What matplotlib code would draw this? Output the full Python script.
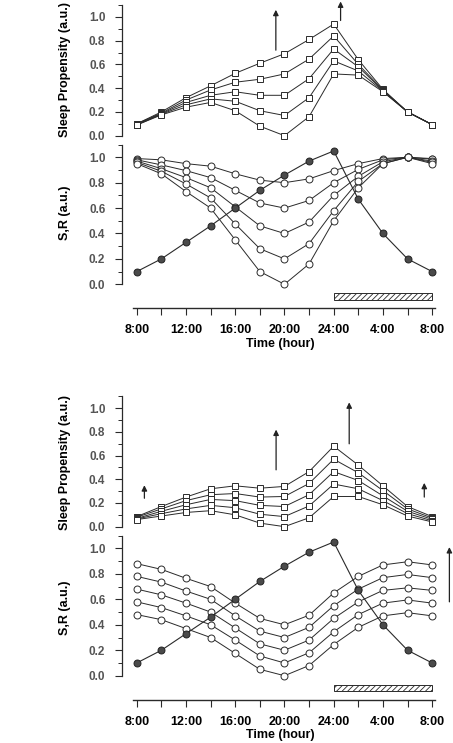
import numpy as np
import matplotlib
matplotlib.use('Agg')
from matplotlib import pyplot as plt
from matplotlib.patches import Rectangle
from matplotlib.ticker import FixedLocator

plt.rcParams['font.family'] = ['Liberation Sans', 'DejaVu Sans']
plt.rcParams['font.weight'] = 'bold'
plt.rcParams['hatch.linewidth'] = 0.6

# time axis: every 2 h from 8:00 to 8:00 next morning
t = np.arange(13)
hour_labels = ['8:00', '', '12:00', '', '16:00', '', '20:00', '', '24:00', '', '4:00', '', '8:00']

# S (filled circles), same in both panels
s_curve = [0.10, 0.20, 0.33, 0.46, 0.60, 0.74, 0.86, 0.97, 1.05, 0.67, 0.40, 0.20, 0.10]

# panel A : R curves (open circles)
r_a1 = [0.99, 0.98, 0.95, 0.93, 0.87, 0.82, 0.80, 0.83, 0.895, 0.95, 0.99, 1.00, 0.99]
r_a2 = [0.98, 0.94, 0.895, 0.84, 0.74, 0.64, 0.60, 0.66, 0.80, 0.905, 0.98, 1.00, 0.985]
r_a3 = [0.97, 0.91, 0.84, 0.76, 0.61, 0.46, 0.40, 0.49, 0.70, 0.85, 0.965, 1.00, 0.97]
r_a4 = [0.96, 0.89, 0.79, 0.68, 0.475, 0.28, 0.20, 0.32, 0.58, 0.81, 0.95, 1.00, 0.96]
r_a5 = [0.95, 0.87, 0.73, 0.60, 0.35, 0.10, 0.00, 0.16, 0.50, 0.76, 0.95, 1.00, 0.95]

# panel A : sleep propensity (open squares)
sp_a1 = [0.10, 0.20, 0.32, 0.42, 0.525, 0.61, 0.69, 0.81, 0.94, 0.64, 0.39, 0.20, 0.093]
sp_a2 = [0.10, 0.19, 0.30, 0.385, 0.45, 0.475, 0.52, 0.645, 0.84, 0.60, 0.385, 0.20, 0.093]
sp_a3 = [0.095, 0.185, 0.28, 0.34, 0.37, 0.34, 0.34, 0.48, 0.73, 0.58, 0.38, 0.20, 0.093]
sp_a4 = [0.09, 0.18, 0.26, 0.31, 0.29, 0.21, 0.17, 0.32, 0.63, 0.545, 0.375, 0.20, 0.093]
sp_a5 = [0.09, 0.175, 0.24, 0.28, 0.21, 0.08, 0.00, 0.16, 0.52, 0.51, 0.37, 0.20, 0.093]

# panel B : R curves
r_b1 = [0.88, 0.835, 0.765, 0.70, 0.57, 0.45, 0.40, 0.475, 0.65, 0.78, 0.87, 0.895, 0.87]
r_b2 = [0.78, 0.735, 0.665, 0.60, 0.47, 0.35, 0.30, 0.38, 0.55, 0.68, 0.77, 0.795, 0.77]
r_b3 = [0.68, 0.635, 0.57, 0.50, 0.375, 0.25, 0.20, 0.28, 0.45, 0.58, 0.67, 0.69, 0.67]
r_b4 = [0.58, 0.535, 0.47, 0.40, 0.28, 0.155, 0.10, 0.18, 0.345, 0.48, 0.57, 0.595, 0.57]
r_b5 = [0.48, 0.44, 0.37, 0.30, 0.175, 0.05, 0.00, 0.08, 0.245, 0.38, 0.47, 0.495, 0.47]

# panel B : sleep propensity
sp_b1 = [0.085, 0.17, 0.25, 0.32, 0.345, 0.325, 0.34, 0.465, 0.68, 0.52, 0.345, 0.17, 0.085]
sp_b2 = [0.08, 0.15, 0.22, 0.27, 0.28, 0.25, 0.255, 0.365, 0.57, 0.455, 0.305, 0.15, 0.073]
sp_b3 = [0.07, 0.13, 0.185, 0.23, 0.22, 0.18, 0.17, 0.27, 0.465, 0.39, 0.26, 0.13, 0.062]
sp_b4 = [0.065, 0.11, 0.15, 0.18, 0.16, 0.105, 0.085, 0.175, 0.36, 0.32, 0.22, 0.11, 0.05]
sp_b5 = [0.06, 0.09, 0.12, 0.135, 0.10, 0.03, 0.00, 0.075, 0.255, 0.255, 0.185, 0.09, 0.04]

# arrows (x, y from, y to)
arrows_sp_a = [(5.65, 0.72, 1.06), (8.28, 0.97, 1.13)]
arrows_sp_b = [(0.31, 0.24, 0.35), (5.66, 0.48, 0.82), (8.63, 0.70, 1.05), (11.68, 0.25, 0.37)]
arrows_r_b = [(12.7, 0.58, 1.01)]

LC = '#2a2a2a'

fig = plt.figure(figsize=(4.53, 7.43), dpi=100)
ax_sa = fig.add_axes([0.2693, 0.8094, 0.701, 0.1838])
ax_ra = fig.add_axes([0.2693, 0.5849, 0.701, 0.2205])
ax_sb = fig.add_axes([0.2693, 0.2832, 0.701, 0.1832])
ax_rb = fig.add_axes([0.2693, 0.0580, 0.701, 0.2211])


def style_axis(ax, bottom_axis):
    ax.set_xlim(-0.6, 12.3)
    for sp in ['top', 'right']:
        ax.spines[sp].set_visible(False)
    ax.spines['left'].set_bounds(0, 1.1)
    ax.spines['left'].set_color(LC)
    ax.spines['left'].set_linewidth(0.9)
    ax.yaxis.set_major_locator(FixedLocator([0, 0.2, 0.4, 0.6, 0.8, 1.0]))
    ax.yaxis.set_minor_locator(FixedLocator([0.1, 0.3, 0.5, 0.7, 0.9, 1.1]))
    ax.set_yticklabels(['0.0', '0.2', '0.4', '0.6', '0.8', '1.0'])
    ax.tick_params(axis='y', which='major', length=5, width=0.8, pad=7,
                   labelsize=8.5, labelcolor='#555555', color=LC)
    ax.tick_params(axis='y', which='minor', length=3, width=0.7, color=LC)
    if bottom_axis:
        ax.spines['bottom'].set_bounds(-0.15, 12.1)
        ax.spines['bottom'].set_color(LC)
        ax.spines['bottom'].set_linewidth(1.0)
        ax.set_xticks(t)
        ax.set_xticklabels(hour_labels)
        ax.tick_params(axis='x', length=5, width=0.8, pad=6.5, labelsize=9, color=LC)
        ax.set_xlabel('Time (hour)', fontsize=9, fontweight='bold', labelpad=1)
    else:
        ax.spines['bottom'].set_visible(False)
        ax.set_xticks([])


def draw_arrows(ax, arrows):
    for x, y0, y1 in arrows:
        ax.annotate('', xy=(x, y1), xytext=(x, y0), annotation_clip=False,
                    arrowprops=dict(arrowstyle='-|>', color='#222222', lw=0.9,
                                    mutation_scale=8, shrinkA=0, shrinkB=0))


sq = dict(marker='s', markersize=4.6, markerfacecolor='white', markeredgecolor=LC,
          markeredgewidth=0.7, color=LC, lw=0.7, clip_on=False)
oc = dict(marker='o', markersize=5, markerfacecolor='white', markeredgecolor=LC,
          markeredgewidth=0.7, color=LC, lw=0.7, clip_on=False)
fc = dict(marker='o', markersize=5, markerfacecolor='#4a4a4a', markeredgecolor='#222222',
          markeredgewidth=0.7, color=LC, lw=0.8, clip_on=False, zorder=4)

panels = [
    (ax_sa, ax_ra, [sp_a1, sp_a2, sp_a3, sp_a4, sp_a5], [r_a1, r_a2, r_a3, r_a4, r_a5],
     arrows_sp_a, [], 0.53, 0.585),
    (ax_sb, ax_rb, [sp_b1, sp_b2, sp_b3, sp_b4, sp_b5], [r_b1, r_b2, r_b3, r_b4, r_b5],
     arrows_sp_b, arrows_r_b, 0.515, 0.56),
]

for ax_s, ax_r, sp_list, r_list, arr_s, arr_r, ys, yr in panels:
    for curve in sp_list:
        ax_s.plot(t, curve, **sq)
    ax_s.set_ylim(-0.05, 1.1)
    style_axis(ax_s, False)
    ax_s.set_ylabel('Sleep Propensity (a.u.)', fontsize=9, fontweight='bold')
    ax_s.yaxis.set_label_coords(-0.16, ys)
    draw_arrows(ax_s, arr_s)

    for curve in r_list:
        ax_r.plot(t, curve, **oc)
    ax_r.plot(t, s_curve, **fc)
    ax_r.set_ylim(-0.19, 1.1)
    style_axis(ax_r, True)
    ax_r.set_ylabel('S,R (a.u.)', fontsize=9, fontweight='bold')
    ax_r.yaxis.set_label_coords(-0.16, yr)
    # hatched bar marking the night
    ax_r.add_patch(Rectangle((8, -0.12), 4, 0.05, facecolor='white', edgecolor=LC,
                             hatch='//////', lw=0.7))
    draw_arrows(ax_r, arr_r)

fig.savefig('out.png', dpi=100)
